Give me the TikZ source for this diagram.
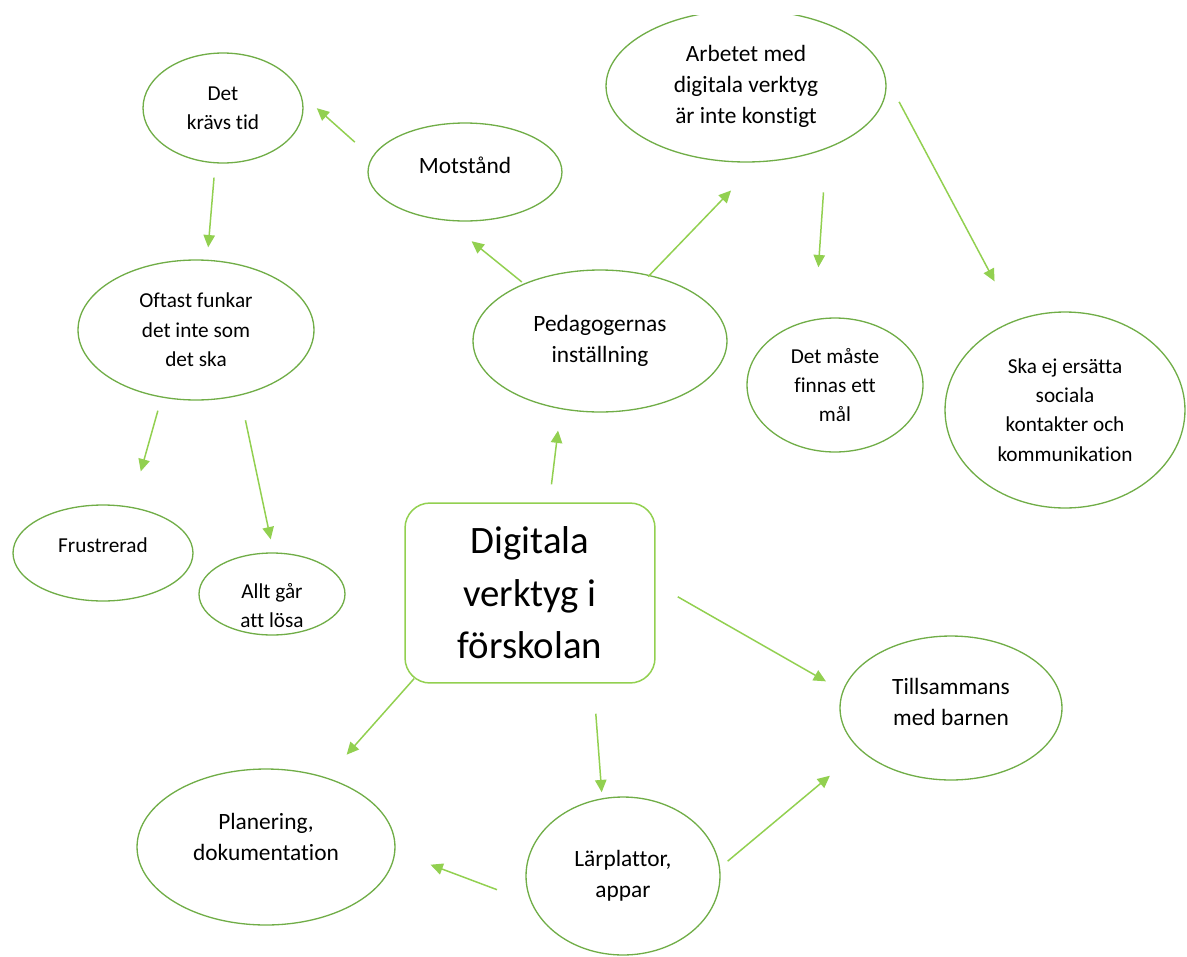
\documentclass[tikz,border=0pt]{standalone}
\usepackage{fontspec}
\setmainfont{Carlito}[Ligatures=NoCommon]
\usetikzlibrary{arrows.meta,shapes.geometric}
\definecolor{ellgreen}{RGB}{112,173,71}
\definecolor{arrgreen}{RGB}{146,208,80}
\tikzset{
  bub/.style={ellipse,draw=ellgreen,line width=.75pt,align=center,inner sep=0pt,
    font=\fontsize{12.1}{16.7}\selectfont},
  bigbub/.style={bub,font=\fontsize{13.3}{17.6}\selectfont},
  arr/.style={draw=arrgreen,line width=.85pt,-{Triangle[length=7pt,width=6.5pt]}}
}

\begin{document}
\begin{tikzpicture}[x=.02cm,y=-.02cm]
        \useasboundingbox (0,0) rectangle (1187,957);
        \clip (0,15) rectangle (1187,957);
        % centre box
        \node[draw=arrgreen,line width=.85pt,rounded corners=.5cm,minimum width=5cm,minimum height=3.6cm,
          align=center,font=\fontsize{22.1}{29.8}\selectfont] (core) at (530,593) {Digitala\\verktyg i\\förskolan};
        % bubbles
        \node[bub,minimum width=3.2cm,minimum height=2.2cm] (krav) at (223,108) {Det\\krävs tid};
        \node[bigbub,minimum width=3.88cm,minimum height=1.96cm,text depth=8pt] (mot) at (465,172) {Motstånd};
        \node[bigbub,minimum width=5.6cm,minimum height=3.04cm] (arb) at (746,86) {Arbetet med\\digitala verktyg\\är inte konstigt};
        \node[bub,minimum width=4.72cm,minimum height=2.8cm] (oft) at (196,330) {Oftast funkar\\det inte som\\det ska};
        \node[bigbub,minimum width=5.08cm,minimum height=2.84cm] (ped) at (600,341) {Pedagogernas\\inställning};
        \node[bub,minimum width=3.52cm,minimum height=2.68cm] (maste) at (835,385) {Det måste\\finnas ett\\mål};
        \node[bub,minimum width=4.8cm,minimum height=3.92cm] (ska) at (1065,410) {Ska ej ersätta\\sociala\\kontakter och\\kommunikation};
        \node[bub,minimum width=3.6cm,minimum height=1.92cm,text depth=9pt] (frus) at (103,553) {Frustrerad};
        \node[bub,minimum width=2.92cm,minimum height=1.64cm,inner ysep=-10pt] (allt) at (272,594) {\rule{0pt}{22pt}Allt går\\att lösa};
        \node[bigbub,minimum width=4.44cm,minimum height=2.88cm,text depth=6.8pt] (till) at (951,708) {Tillsammans\\med barnen};
        \node[bigbub,minimum width=5.16cm,minimum height=3.12cm,text depth=11.4pt] (plan) at (266,847) {Planering,\\dokumentation};
        \node[bigbub,minimum width=3.88cm,minimum height=3.16cm] (lar) at (623,876) {Lärplattor,\\appar};
        % arrows
        \draw[arr,shorten <=.454cm,shorten >=.42cm] (mot.171.6) -- (krav.10.3);
        \draw[arr,shorten <=.286cm,shorten >=.248cm] (krav.-98) -- (oft.81);
        \draw[arr,shorten <=.05cm,shorten >=.652cm] (ped.143.8) -- (mot.-111.5);
        \draw[arr,shorten <=-.044cm,shorten >=.78cm] (ped.53.5) -- (arb.-81.8);
        \draw[arr,shorten <=.874cm,shorten >=1.04cm] (arb.-38) -- (maste.107.4);
        \draw[arr,shorten <=.58cm,shorten >=.88cm] (arb.4.8) -- (ska.119.4);
        \draw[arr,shorten <=.272cm,shorten >=.734cm] (oft.-117) -- (frus.59.7);
        \draw[arr,shorten <=.506cm,shorten >=.266cm] (oft.-56.9) -- (allt.88.9);
        \draw[arr,shorten <=.362cm,shorten >=.432cm] (core.78.3) -- (ped.-120.2);
        \draw[arr,shorten <=.508cm,shorten >=.382cm] (core.4) -- (till.171.9);
        \draw[arr,shorten <=-.136cm,shorten >=.608cm] (core.-143) -- (plan.49.9);
        \draw[arr,shorten <=.602cm,shorten >=.12cm] (core.-55.7) -- (lar.105.6);
        \draw[arr,shorten <=.724cm,shorten >=.75cm] (lar.-164.7) -- (plan.-2.4);
        \draw[arr,shorten <=.198cm,shorten >=.792cm] (lar.5.2) -- (till.-155.3);
\end{tikzpicture}
\end{document}
